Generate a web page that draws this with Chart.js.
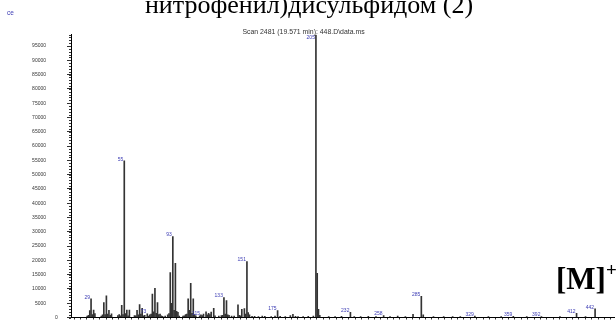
<!DOCTYPE html>
<html><head><meta charset="utf-8">
<script src="https://cdn.jsdelivr.net/npm/chart.js@4/dist/chart.umd.min.js"></script>
<style>html,body{margin:0;padding:0;background:#fff;overflow:hidden}#wrap{width:616px;height:320px;position:relative}</style>
</head><body><div id="wrap"><canvas id="c" width="616" height="320"></canvas></div>
<script>
// m/z positions and abundances
const massValues = [26,27,28,29,30,31,32,37,38,39,40,41,42,43,44,45,50,51,52,53,54,55,56,57,58,59,63,64,65,66,67,68,69,70,71,73,74,75,76,77,78,79,80,81,82,83,84,85,87,89,90,91,92,93,94,95,96,97,98,101,102,103,104,105,106,107,108,109,110,111,114,115,116,117,119,120,121,122,123,125,126,129,131,132,133,134,135,136,137,139,141,144,145,146,147,149,150,151,152,153,155,157,160,163,165,170,173,175,177,181,185,187,189,191,195,199,203,205,206,207,208,215,220,225,232,235,240,246,252,258,263,269,275,281,287.5,289,297,305,312,318,329.4,340,350,359.5,370,381.5,396,409,416,423.5];
const abundances = [500,800,2400,6500,1000,2600,1400,500,900,5200,1000,7600,1200,2500,800,1300,700,1000,600,4300,1000,54800,1400,2600,600,2600,700,600,2500,900,4500,1200,3200,600,800,1300,500,900,1200,8200,2000,10200,1500,5200,1000,1200,600,400,500,900,1400,15700,5000,28300,2500,19000,2200,1800,500,500,600,1000,1200,6500,2500,12000,1500,6500,1000,600,600,900,700,1200,2000,900,1500,1000,1900,3200,600,500,700,800,7000,1200,5900,900,800,500,500,4400,800,600,2900,3100,1200,19600,1700,900,400,400,300,500,400,300,500,2400,400,300,700,1100,400,300,300,400,500,98800,15500,2900,800,300,300,400,1800,300,300,400,300,700,300,500,300,1100,7400,900,300,300,300,300,500,300,300,400,300,300,300,1500,300,3000];
// labelled peaks
const labelMasses = [29,55,73,93,115,133,151,175,205,232,258,287.5,329.4,359.5,381.5,409,423.5];
const labelTexts  = ['29','55','73','93','115','133','151','175','205','232','258','285','329','359','392','412','442'];
// y tick labels
const yTickValues = [0,5000,10000,15000,20000,25000,30000,35000,40000,45000,50000,55000,60000,65000,70000,75000,80000,85000,90000,95000];
const yMinorStep = 1000;
const xRange = [13.3, 438.3];
const yMax = 99000;
const scanTitle = 'Scan 2481 (19.571 min): 448.D\\data.ms';
const pageTitle = 'нитрофенил)дисульфидом (2)';
const yAxisTail = 'ce';
const ionLabel = '[M]';
const ionCharge = '+';

const overlay = {
  id: 'overlay',
  afterDraw(chart) {
    const {ctx, chartArea, scales} = chart;
    const xs = scales.x, ys = scales.y;
    ctx.save();
    // minor ticks on y axis
    ctx.strokeStyle = '#333'; ctx.lineWidth = 1;
    ctx.beginPath();
    for (let v = 0; v <= ys.max; v += yMinorStep) {
      const py = Math.round(ys.getPixelForValue(v)) + 0.5;
      ctx.moveTo(chartArea.left - 2, py); ctx.lineTo(chartArea.left, py);
    }
    ctx.stroke();
    // zero label
    ctx.fillStyle = '#333';
    ctx.font = '5px "Liberation Sans", Arial, sans-serif';
    ctx.textAlign = 'left'; ctx.textBaseline = 'middle';
    ctx.fillText('0', 55, ys.getPixelForValue(0));
    // peak labels
    ctx.fillStyle = '#3c3cb4';
    ctx.font = '5px "Liberation Sans", Arial, sans-serif';
    ctx.textAlign = 'right'; ctx.textBaseline = 'alphabetic';
    labelMasses.forEach((m, i) => {
      const idx = massValues.indexOf(m);
      const px = xs.getPixelForValue(m);
      const py = Math.max(ys.getPixelForValue(abundances[idx]), chartArea.top + 5);
      ctx.fillText(labelTexts[i], px - 1, py - 0.3);
    });
    // scan title
    ctx.fillStyle = '#333';
    ctx.font = '6.9px "Liberation Sans", Arial, sans-serif';
    ctx.textAlign = 'center'; ctx.textBaseline = 'alphabetic';
    ctx.fillText(scanTitle, 303.5, 34);
    // y axis title tail
    ctx.fillStyle = '#3c3cb4';
    ctx.textAlign = 'left';
    ctx.font = '6.5px "Liberation Sans", Arial, sans-serif';
    ctx.fillText(yAxisTail, 7, 15);
    // page title (cut at top)
    ctx.fillStyle = '#000';
    ctx.font = '26px "Liberation Serif", "Times New Roman", serif';
    ctx.textAlign = 'center';
    ctx.fillText(pageTitle, 309, 12.5);
    // [M]+
    ctx.textAlign = 'left';
    ctx.font = 'bold 31px "Liberation Serif", "Times New Roman", serif';
    ctx.fillText(ionLabel, 556, 289);
    ctx.font = 'bold 19px "Liberation Serif", "Times New Roman", serif';
    ctx.fillText(ionCharge, 606, 276);
    ctx.restore();
  }
};

new Chart(document.getElementById('c'), {
  type: 'bar',
  data: {
    datasets: [{
      data: massValues.map((m, i) => ({x: m, y: abundances[i]})),
      backgroundColor: '#333',
      borderWidth: 0,
      barThickness: 1
    }]
  },
  options: {
    responsive: false,
    animation: false,
    devicePixelRatio: 1,
    layout: {padding: {top: 34.6, right: 2, left: 0, bottom: 0}},
    plugins: {legend: {display: false}, tooltip: {enabled: false}, title: {display: false}},
    scales: {
      x: {
        type: 'linear', min: xRange[0], max: xRange[1], offset: false,
        grid: {display: true, drawOnChartArea: false, drawTicks: true, tickLength: 2, tickColor: '#333'},
        border: {display: true, color: '#000', width: 1},
        ticks: {display: false, stepSize: 5},
        afterFit(scale) { scale.height = 2.5; scale.paddingLeft = 0; scale.paddingRight = 0; }
      },
      y: {
        min: 0, max: yMax,
        grid: {display: true, drawOnChartArea: false, drawTicks: true, tickLength: 4, tickColor: '#333'},
        border: {display: true, color: '#000', width: 1},
        ticks: {
          padding: 21, color: '#333',
          font: {family: '"Liberation Sans", Arial, sans-serif', size: 5},
          callback: (v) => v === 0 ? '' : String(v)
        },
        afterBuildTicks(scale) { scale.ticks = yTickValues.map(v => ({value: v})); },
        afterFit(scale) { scale.width = 71; scale.paddingTop = 0; scale.paddingBottom = 0; }
      }
    }
  },
  plugins: [overlay]
});
</script>
</body></html>
